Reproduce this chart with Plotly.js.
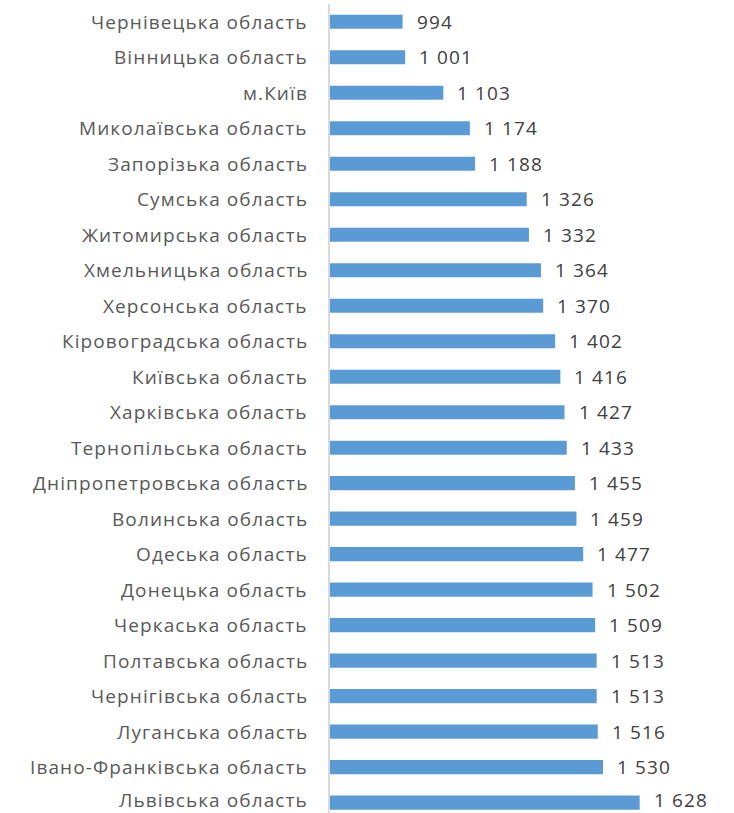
<!DOCTYPE html>
<html>
<head>
<meta charset="utf-8">
<script src="https://cdn.plot.ly/plotly-3.0.1.min.js"></script>
<style>
html,body{margin:0;padding:0;background:#fff;}
#chart{width:734px;height:813px;}
.annotation-text{letter-spacing:1.1px;}
</style>
</head>
<body>
<div id="chart"></div>
<script>
const regions = [
  "Чернівецька область", "Вінницька область", "м.Київ", "Миколаївська область",
  "Запорізька область", "Сумська область", "Житомирська область", "Хмельницька область",
  "Херсонська область", "Кіровоградська область", "Київська область", "Харківська область",
  "Тернопільська область", "Дніпропетровська область", "Волинська область", "Одеська область",
  "Донецька область", "Черкаська область", "Полтавська область", "Чернігівська область",
  "Луганська область", "Івано-Франківська область", "Львівська область"
];
const values = [994, 1001, 1103, 1174, 1188, 1326, 1332, 1364, 1370, 1402, 1416, 1427,
  1433, 1455, 1459, 1477, 1502, 1509, 1513, 1513, 1516, 1530, 1628];

const fmt = v => String(v).replace(/\B(?=(\d{3})+(?!\d))/g, " ");
const idx = regions.map((_, i) => i);
const last = regions.length - 1;

const trace = {
  type: "bar",
  orientation: "h",
  x: values,
  y: idx,
  marker: {color: "#5b9bd5"},
  hoverinfo: "none"
};

const valueNotes = values.map((v, i) => ({
  x: v, y: i, xref: "x", yref: "y",
  text: fmt(v), showarrow: false,
  xanchor: "left", yanchor: "middle", xshift: 12, yshift: i === last ? 3 : 0,
  font: {family: "Open Sans, sans-serif", size: 19, color: "#404040"}
}));

const labelNotes = regions.map((r, i) => ({
  x: 0, y: i, xref: "paper", yref: "y",
  text: r, showarrow: false,
  xanchor: "right", yanchor: "middle", xshift: -20, yshift: i === last ? 3 : 0,
  font: {family: "Open Sans, sans-serif", size: 19, color: "#595959"}
}));

const layout = {
  width: 734, height: 813,
  margin: {l: 330, r: 30, t: 4, b: 0},
  paper_bgcolor: "#ffffff", plot_bgcolor: "#ffffff",
  showlegend: false,
  bargap: 0.6,
  xaxis: {
    range: [800, 1800], showgrid: false, zeroline: false,
    showticklabels: false, showline: false, ticks: ""
  },
  yaxis: {
    range: [22.29, -0.5], tickmode: "array", tickvals: idx,
    showticklabels: false,
    showgrid: false, zeroline: false,
    showline: true, linecolor: "#d9d9d9", linewidth: 2, ticks: ""
  },
  annotations: labelNotes.concat(valueNotes)
};

Plotly.newPlot("chart", [trace], layout, {displayModeBar: false, staticPlot: true});
</script>
</body>
</html>
